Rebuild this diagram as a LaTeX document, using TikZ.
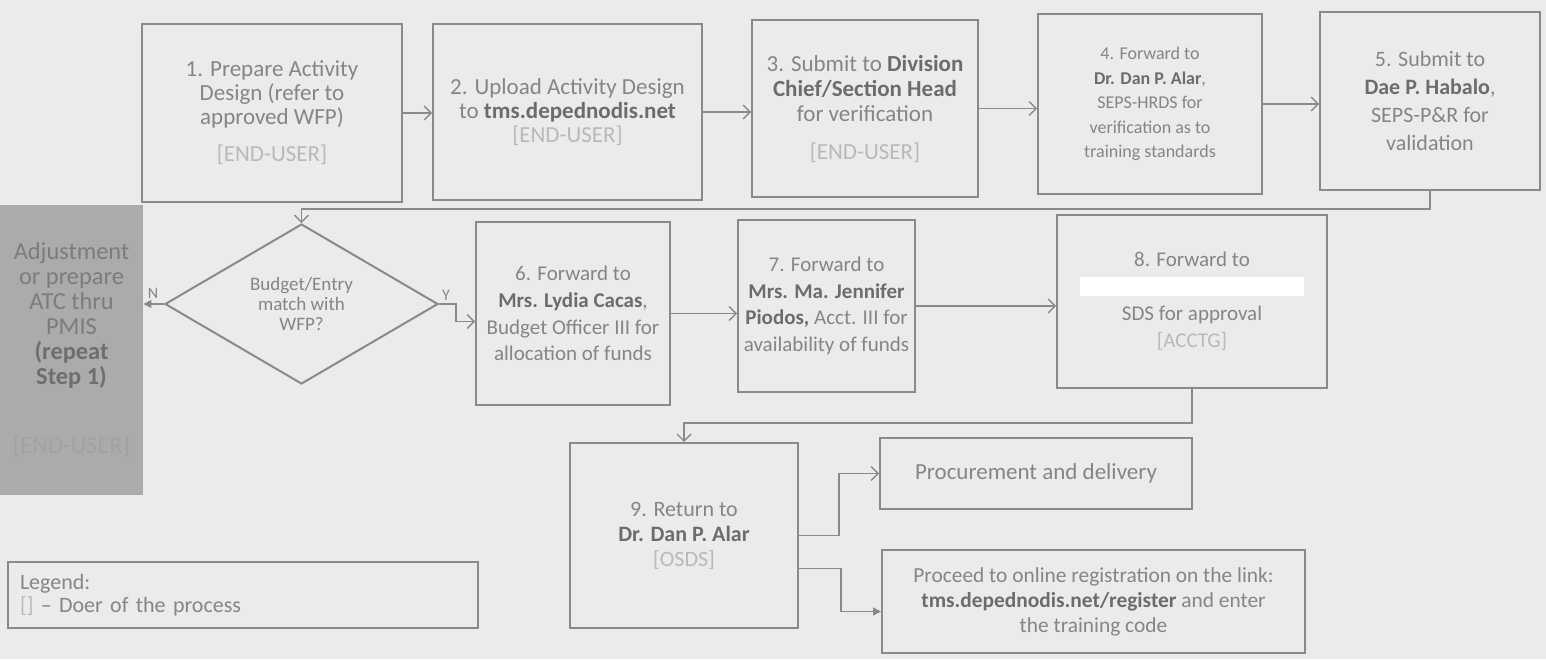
\documentclass[tikz,border=0pt]{standalone}
\usepackage{fontspec}
\setmainfont{Carlito}
\usetikzlibrary{shapes.geometric,arrows.meta}
\definecolor{bgc}{HTML}{EBEBEA}
\definecolor{linec}{HTML}{8A8A8A}
\definecolor{txt}{HTML}{858585}
\definecolor{txtb}{HTML}{6C6C6C}
\definecolor{doer}{HTML}{B9B9B9}
\definecolor{grayfill}{HTML}{ABABAB}
\definecolor{graytxt}{HTML}{7C7C7C}
\definecolor{graybold}{HTML}{6E6E6E}
\definecolor{graydoer}{HTML}{A2A2A2}
\newcommand{\bb}[1]{\textbf{\textcolor{txtb}{#1}}}
\newcommand{\doer}[1]{\textcolor{doer}{#1}}
\newcommand{\fsz}[2]{\fontsize{#1}{#2}\selectfont}
\begin{document}
\begin{tikzpicture}[x=0.5pt,y=-0.5pt,
  box/.style={draw=linec, line width=1pt, align=center, text=txt, inner sep=0pt},
  arr/.style={draw=linec, line width=0.65pt, -{Straight Barb[length=3.5pt,width=7pt,line width=0.65pt]}},
  arrfill/.style={draw=linec, line width=0.65pt, -{Triangle[length=4pt,width=4pt]}},
  lbl/.style={text=txt, font=\fsz{8}{9}, inner sep=0pt}
]
\fill[bgc] (0,0) rectangle (1546,659);
\useasboundingbox (0,0) rectangle (1546,659);

% top row
\node[box, minimum width=130pt, minimum height=89pt, font=\fsz{11.5}{12}] (b1) at (272,113)
  {1. Prepare Activity\\Design (refer to\\approved WFP)\\[6.5pt]\doer{[END-USER]}};
\node[box, minimum width=134.5pt, minimum height=88pt, font=\fsz{11.5}{12}] (b2) at (567.5,112)
  {2. Upload Activity Design\\to \bb{tms.depednodis.net}\\\doer{[END-USER]}};
\node[box, minimum width=113pt, minimum height=88.5pt, font=\fsz{11.5}{12.5}] (b3) at (865,108.5)
  {3. Submit to \bb{Division}\\\bb{Chief/Section Head}\\for verification\\[6.5pt]\doer{[END-USER]}};
\node[box, minimum width=112pt, minimum height=90pt, font=\fsz{9}{12.25}] (b4) at (1150,104)
  {4. Forward to\\\bb{Dr. Dan P. Alar},\\SEPS-HRDS for\\verification as to\\training standards};
\node[box, minimum width=110pt, minimum height=89pt, font=\fsz{11}{14}] (b5) at (1430,101)
  {5. Submit to\\\bb{Dae P. Habalo},\\SEPS-P\&R for\\validation};

% middle row
\node[fill=grayfill, minimum width=71.5pt, minimum height=145pt, align=center, text=graytxt,
  inner sep=0pt, font=\fsz{12.2}{12.5}] (gray) at (71.5,350)
  {Adjustment\\or prepare\\ATC thru\\PMIS\\\textbf{\textcolor{graybold}{(repeat}}\\\textbf{\textcolor{graybold}{Step 1)}}\\[22pt]\textcolor{graydoer}{[END-USER]}};
\node[draw=linec, line width=1pt, shape=diamond, minimum width=136.5pt, minimum height=80pt,
  inner sep=0pt, align=center, text=txt, font=\fsz{9.5}{10}] (dia) at (301.5,304)
  {Budget/Entry\\match with\\WFP?};
\node[box, minimum width=97pt, minimum height=91.5pt, font=\fsz{10.5}{13.3}] (b6) at (573,313.5)
  {6. Forward to\\\bb{Mrs. Lydia Cacas},\\Budget Officer III for\\allocation of funds};
\node[box, minimum width=88.5pt, minimum height=86pt, font=\fsz{10.5}{13.3}] (b7) at (826.5,306)
  {7. Forward to\\\bb{Mrs. Ma. Jennifer}\\\bb{Piodos,} Acct. III for\\availability of funds};
\node[box, minimum width=135pt, minimum height=86.5pt, font=\fsz{10.5}{13.5}] (b8) at (1192,301.5)
  {8. Forward to\\\textcolor{white}{\rule[-1pt]{112pt}{9.5pt}}\\SDS for approval\\\doer{[ACCTG]}};

% bottom row
\node[box, minimum width=114pt, minimum height=92.5pt, font=\fsz{11}{12.5}] (b9) at (684,535.5)
  {9. Return to\\\bb{Dr. Dan P. Alar}\\\doer{[OSDS]}};
\node[box, minimum width=156pt, minimum height=35.5pt, font=\fsz{11.5}{12.5}] (proc) at (1036,473.5)
  {Procurement and delivery};
\node[box, minimum width=211.5pt, minimum height=51.5pt, font=\fsz{10.7}{12.5}] (reg) at (1093.5,601.5)
  {Proceed to online registration on the link:\\\bb{tms.depednodis.net/register} and enter\\the training code};
\node[box, minimum width=235pt, minimum height=33pt, align=left, text width=223pt, inner sep=6pt,
  font=\fsz{11}{11.5}] (leg) at (243,595)
  {Legend:\\\doer{[]} -- Doer of the process};

% connectors
\draw[arr] (b1.east) -- (b1.east -| b2.west);
\draw[arr] (b2.east) -- (b2.east -| b3.west);
\draw[arr] (b3.east) -- (b3.east -| b4.west);
\draw[arr] (b4.east) -- (b4.east -| b5.west);
\draw[arr] (b5.south) -- ++(0,18) -| (dia.north);
\draw[arrfill] (dia.west) -- (dia.west -| gray.east);
\node[lbl] (nlab) at (153,293) {N};
\draw[arr] (dia.east) -- ++(17,0) |- ([yshift=-4pt]b6.west);
\node[lbl] (ylab) at (446,295) {Y};
\draw[arr] (b6.east) -- (b6.east -| b7.west);
\draw[arr] (b7.east) -- (b7.east -| b8.west);
\draw[arr] (b8.south) -- ++(0,34) -| (b9.north);
\draw[arr] (b9.east) -- ++(40,0) |- (proc.west);
\draw[arrfill] (b9.east) ++(0,33) -- ++(42,0) |- ([yshift=-5pt]reg.west);
\end{tikzpicture}
\end{document}
